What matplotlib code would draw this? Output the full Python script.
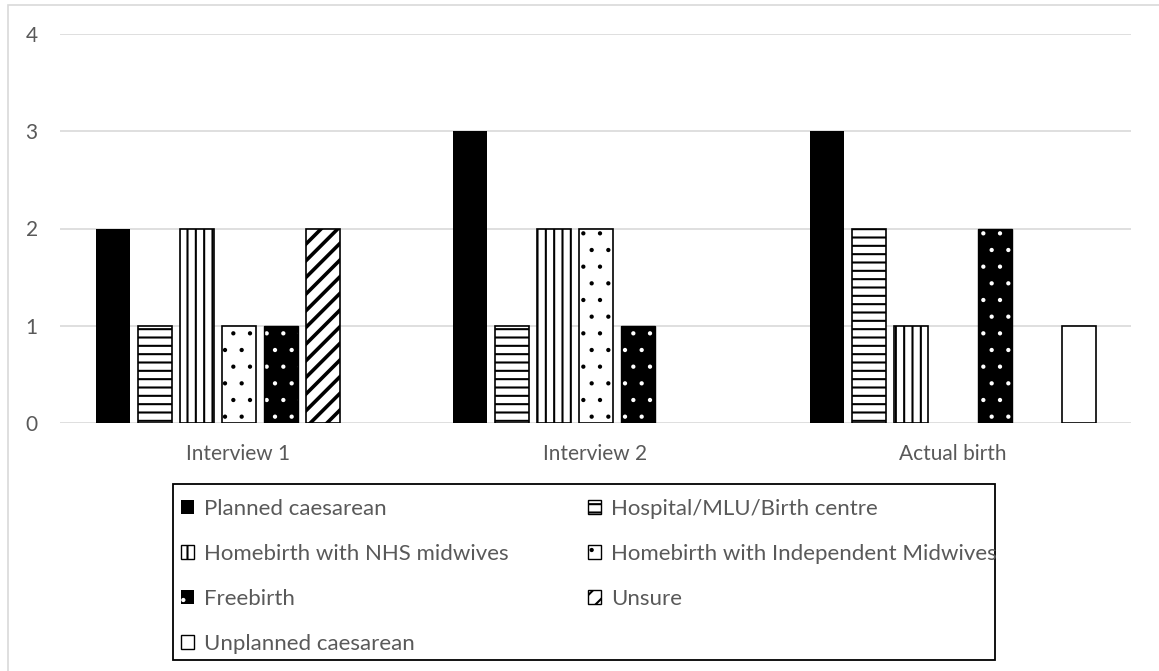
import numpy as np
import matplotlib
matplotlib.use('Agg')
import matplotlib.pyplot as plt
import matplotlib.patches as mpatches
import matplotlib.hatch

categories = ['Interview 1', 'Interview 2', 'Actual birth']
series = ['Planned caesarean', 'Hospital/MLU/Birth centre', 'Homebirth with NHS midwives',
          'Homebirth with Independent Midwives', 'Freebirth', 'Unsure', 'Unplanned caesarean']
planned_caesarean = [2, 3, 3]
hospital = [1, 1, 2]
homebirth_nhs = [2, 2, 1]
homebirth_independent = [1, 2, 0]
freebirth = [1, 1, 2]
unsure = [2, 0, 0]
unplanned_caesarean = [0, 0, 1]
values = [planned_caesarean, hospital, homebirth_nhs, homebirth_independent,
          freebirth, unsure, unplanned_caesarean]
yticks = [0, 1, 2, 3, 4]

# face, edge, hatch, hatch linewidth
styles = [('black', 'black', None, 1.5),
          ('white', 'black', '--', 1.5),
          ('white', 'black', '||', 1.5),
          ('white', 'black', '.', 1.5),
          ('black', 'white', '.', 1.5),
          ('white', 'black', '//', 2.6),
          ('white', 'black', None, 1.5)]

# smaller dots, closer to the office-style dot pattern
matplotlib.hatch.SmallFilledCircles.size = 0.065

plt.rcParams['font.family'] = ['Lato', 'DejaVu Sans']
text_color = '#595959'
grid_color = '#d9d9d9'

W, H = 1159, 671
fig = plt.figure(figsize=(W / 100, H / 100), dpi=100)
ax = fig.add_axes([60 / W, 1 - 423 / H, (1131 - 60) / W, (423 - 34) / H])

x = np.arange(len(categories))
slot = 42 / 357
width = 34 / 357
n = len(series)

handles = []
for i, (name, vals) in enumerate(zip(series, values)):
    face, edge, hatch, hlw = styles[i]
    plt.rcParams['hatch.linewidth'] = hlw
    offs = x + (i - (n - 1) / 2) * slot
    vals = np.array(vals, dtype=float)
    keep = vals > 0
    lw = 0 if face == 'black' else 1.2
    ax.bar(offs[keep], vals[keep], width=width, color=face, edgecolor=edge,
           hatch=hatch, linewidth=lw, zorder=3)
    if face == 'black' and hatch:
        # outline for the dotted dark bars
        ax.bar(offs[keep], vals[keep], width=width, fill=False, edgecolor='black',
               linewidth=1.0, zorder=4)
    handles.append(mpatches.Patch(facecolor=face, edgecolor='black' if face == 'white' else edge,
                                  hatch=hatch, linewidth=1.0 if face == 'white' else 0, label=name))

ax.set_xlim(-0.5, len(categories) - 0.5)
ax.set_ylim(0, 4)
ax.set_yticks(yticks)
ax.set_xticks(x)
ax.set_xticklabels(categories)
ax.tick_params(axis='both', length=0, labelsize=15, colors=text_color)
ax.tick_params(axis='y', pad=16)
ax.tick_params(axis='x', pad=15)
for s in ax.spines.values():
    s.set_visible(False)
ax.yaxis.grid(True, color=grid_color, linewidth=1.2)
ax.set_axisbelow(True)

# chart area border (cut off at right and bottom)
fig.add_artist(mpatches.Rectangle((8 / W, -0.5), 1.2, 1.5 - 5 / H, transform=fig.transFigure,
                                  fill=False, edgecolor=grid_color, linewidth=1.2))

# legend box drawn on its own, entries placed inside it
fig.add_artist(mpatches.Rectangle((173 / W, 1 - 660 / H), (995 - 173) / W, (660 - 484) / H,
                                  transform=fig.transFigure, fill=False,
                                  edgecolor='black', linewidth=1.3, zorder=5))
order = [0, 2, 4, 6, 1, 3, 5]
leg = fig.legend([handles[k] for k in order], [series[k] for k in order],
                 loc='upper left', ncol=2, mode='expand',
                 bbox_to_anchor=(181 / W, 1 - 499 / H - 0.01, (997 - 181) / W, 0.01),
                 fontsize=16, labelspacing=1.12, handlelength=0.6, handleheight=0.6,
                 handletextpad=0.45, borderpad=0, borderaxespad=0,
                 frameon=False, labelcolor=text_color)

fig.savefig('out.png', dpi=100)
